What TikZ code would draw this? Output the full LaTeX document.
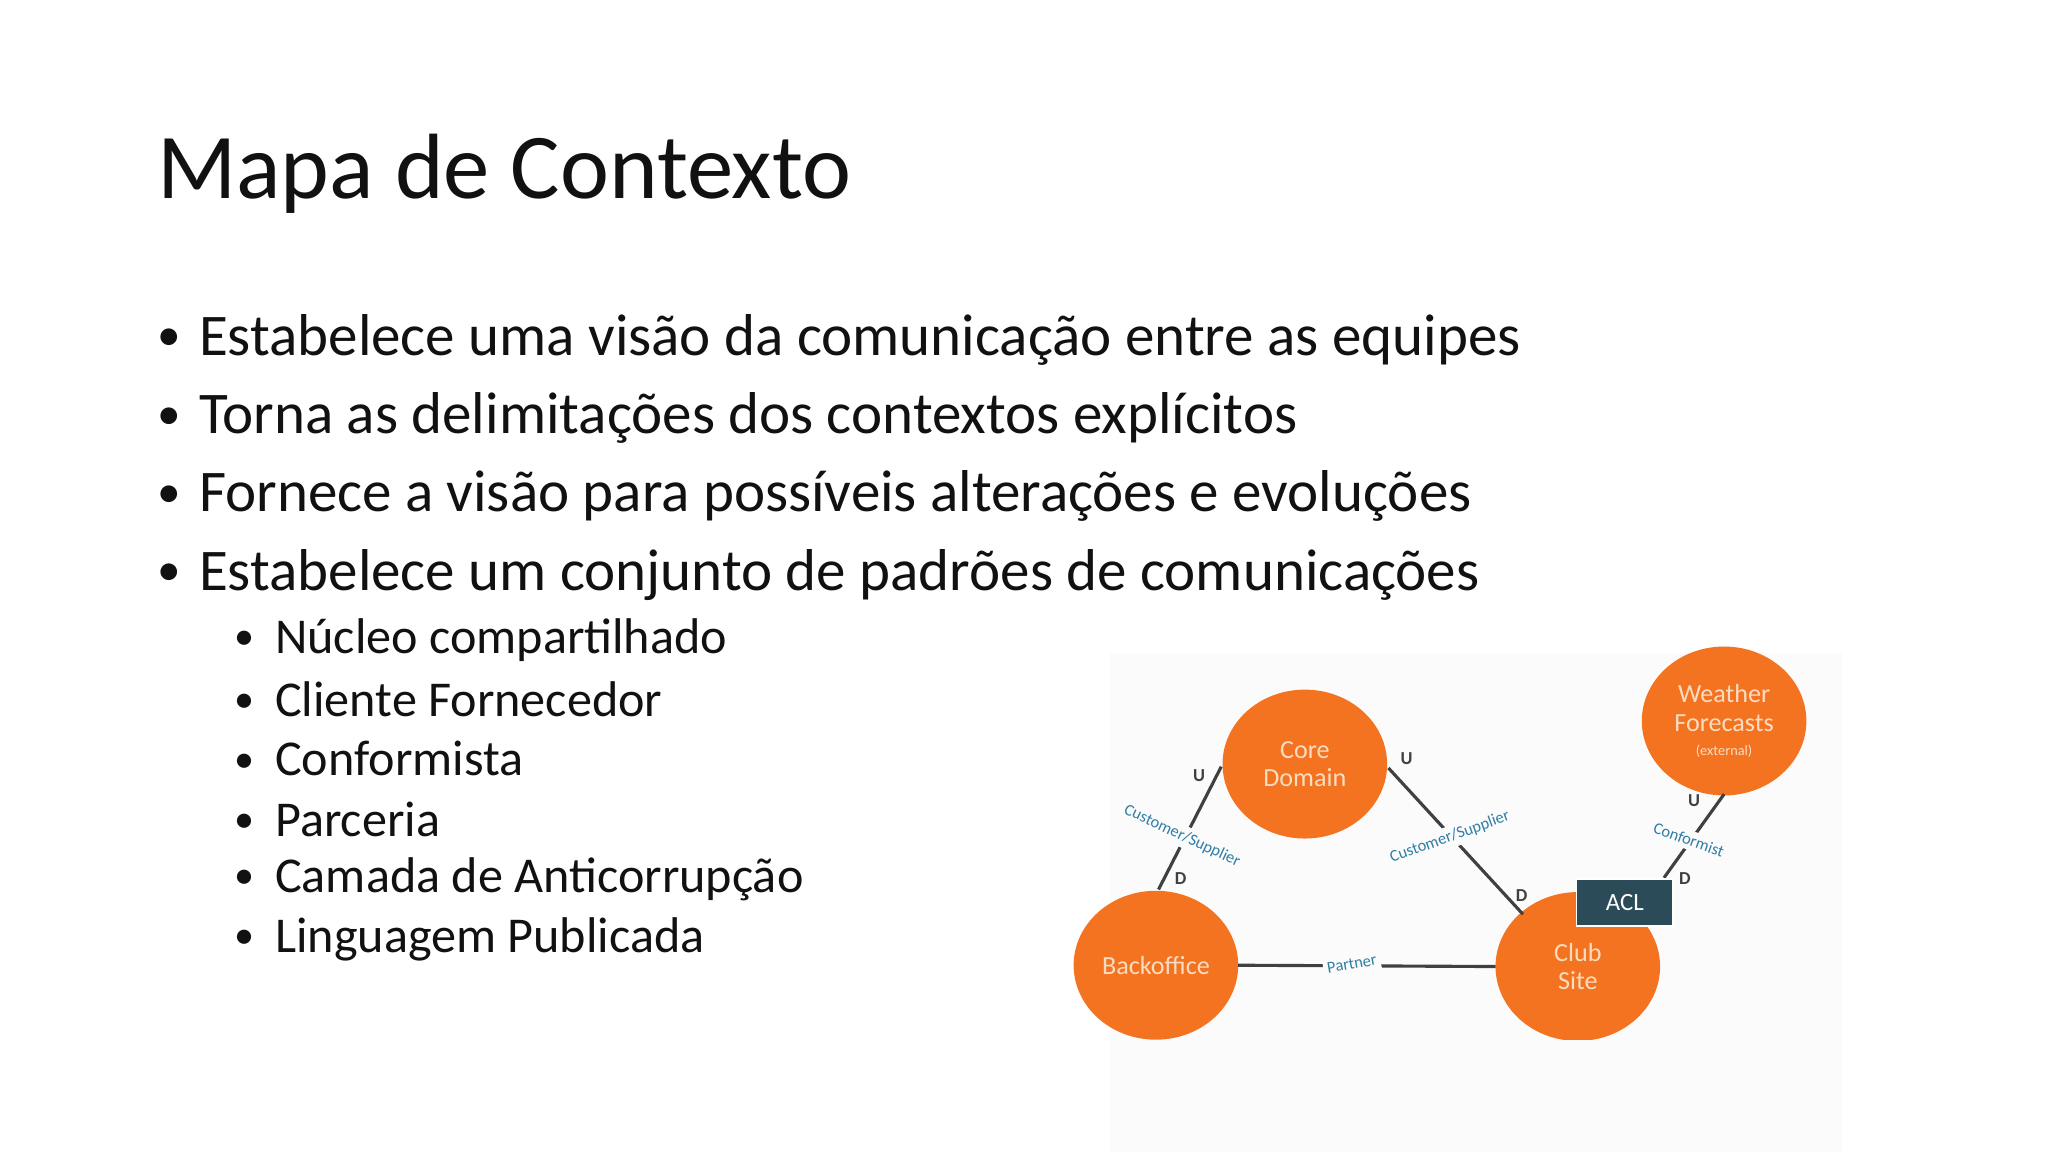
\documentclass[tikz,border=0pt]{standalone}
\usepackage{fontspec}
\setmainfont{Carlito}
\usetikzlibrary{shapes.geometric}
\definecolor{org}{HTML}{F47321}
\definecolor{peach}{HTML}{FCDCC0}
\definecolor{lblue}{HTML}{2F7EA6}
\definecolor{acl}{HTML}{2A4B57}
\definecolor{txt}{HTML}{111111}
\definecolor{bg}{HTML}{FBFBFB}
\newcommand{\bdot}{\raisebox{0.15ex}{\scalebox{0.8}{\textbullet}}}
\tikzset{
  ctx/.style={ellipse,fill=org,minimum width=63pt,minimum height=57pt,inner sep=0pt,align=center,text=peach,font=\fontsize{10}{11}\selectfont},
  rel/.style={draw=black!75,line width=1.2pt},
  lbl/.style={fill=bg,text=lblue,inner sep=1.5pt,font=\fontsize{6.3}{7}\selectfont},
  ud/.style={font=\bfseries\fontsize{7}{8}\selectfont,text=black!75,inner sep=0pt},
  bul/.style={anchor=west,font=\fontsize{22.6}{24}\selectfont,text=txt,inner sep=0pt},
  sbul/.style={anchor=west,font=\fontsize{19.2}{20}\selectfont,text=txt,inner sep=0pt}
}
\begin{document}
\begin{tikzpicture}[x=0.5pt,y=-0.5pt]
\useasboundingbox[fill=white] (0,0) rectangle (1568,882);
\fill[bg] (850,500) rectangle (1410,882);
\node[anchor=base west,inner sep=0pt,font=\fontsize{35.5}{40}\selectfont,text=txt] (title) at (120,152) {Mapa de Contexto};
\node[bul] (b1) at (120,260) {\bdot\hspace{7pt}Estabelece uma visão da comunicação entre as equipes};
\node[bul] (b2) at (120,320) {\bdot\hspace{7pt}Torna as delimitações dos contextos explícitos};
\node[bul] (b3) at (120,380) {\bdot\hspace{7pt}Fornece a visão para possíveis alterações e evoluções};
\node[bul] (b4) at (120,440) {\bdot\hspace{7pt}Estabelece um conjunto de padrões de comunicações};
\node[sbul] (s1) at (179,490) {\bdot\hspace{8pt}Núcleo compartilhado};
\node[sbul] (s2) at (179,535) {\bdot\hspace{8pt}Cliente Fornecedor};
\node[sbul] (s3) at (179,581) {\bdot\hspace{8pt}Conformista};
\node[sbul] (s4) at (179,627) {\bdot\hspace{8pt}Parceria};
\node[sbul] (s5) at (179,673) {\bdot\hspace{8pt}Camada de Anticorrupção};
\node[sbul] (s6) at (179,719) {\bdot\hspace{8pt}Linguagem Publicada};

\node[ctx] (core) at (999,585) {Core\\Domain};
\node[ctx] (back) at (885,739) {Backoffice};
\node[ctx] (club) at (1208,740) {Club\\Site};
\node[ctx] (wea) at (1320,552) {Weather\\Forecasts\\[-2pt]{\fontsize{5.5}{6}\selectfont(external)}};
\fill[white] (800,796) rectangle (1568,882);
\fill[bg] (850,796) rectangle (1410,882);

\coordinate (c1a) at (887,681);
\coordinate (c1b) at (935,587);
\coordinate (c2a) at (1063,588);
\coordinate (c2b) at (1166,700);
\coordinate (c3a) at (1320,608);
\coordinate (c3b) at (1274,672);
\coordinate (c4a) at (948,739);
\coordinate (c4b) at (1145,740);
\draw[rel] (c1a) -- (c1b);
\draw[rel] (c2a) -- (c2b);
\draw[rel] (c3a) -- (c3b);
\draw[rel] (c4a) -- (c4b);
\node[lbl,rotate=-25] (l1) at (905,640) {Customer/Supplier};
\node[lbl,rotate=20] (l2) at (1110,641) {Customer/Supplier};
\node[lbl,rotate=-20] (l3) at (1293,643) {Conformist};
\node[lbl,rotate=10] (l4) at (1035,738) {Partner};
\node[ud] (u1) at (918,594) {U};
\node[ud] (d1) at (904,673) {D};
\node[ud] (u2) at (1077,581) {U};
\node[ud] (d2) at (1165,686) {D};
\node[ud] (u3) at (1297,613) {U};
\node[ud] (d3) at (1290,673) {D};
\node[fill=acl,draw=white,line width=0.6pt,minimum width=37pt,minimum height=18pt,text=white,font=\fontsize{9.5}{10}\selectfont] (aclbox) at (1244,691) {ACL};
\end{tikzpicture}
\end{document}
